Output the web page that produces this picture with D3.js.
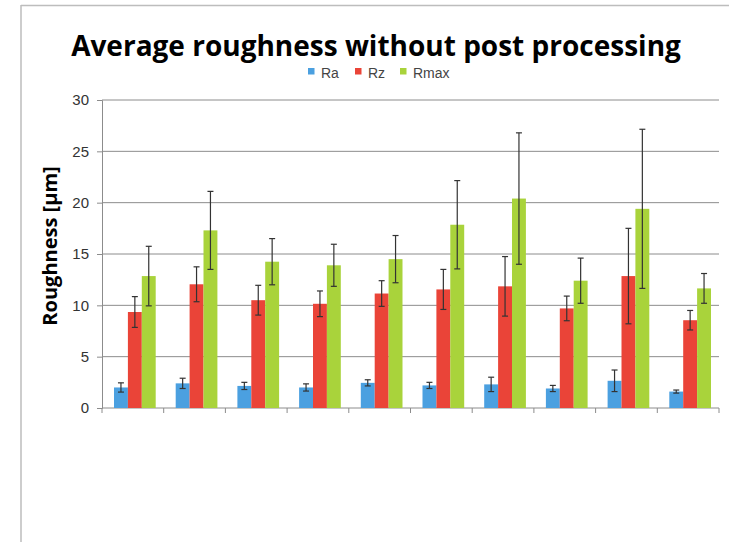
<!DOCTYPE html>
<html>
<head>
<meta charset="utf-8">
<script src="https://cdn.jsdelivr.net/npm/d3@7"></script>
<style>
  body { margin: 0; background: #fff; }
  svg { display: block; }
</style>
</head>
<body>
<div id="chart"></div>
<script>
// samples (no labels shown on the x axis)
var samples = ["1", "2", "3", "4", "5", "6", "7", "8", "9", "10"];
var seriesNames = ["Ra", "Rz", "Rmax"];

// mean values
var raValues   = [2.0, 2.4, 2.15, 2.0, 2.45, 2.2, 2.3, 1.9, 2.65, 1.6];
var rzValues   = [9.35, 12.05, 10.5, 10.15, 11.15, 11.55, 11.85, 9.7, 12.85, 8.55];
var rmaxValues = [12.85, 17.3, 14.25, 13.9, 14.5, 17.85, 20.4, 12.4, 19.4, 11.65];

// standard deviations (error bars)
var raErr   = [0.45, 0.5, 0.35, 0.35, 0.3, 0.3, 0.7, 0.3, 1.05, 0.15];
var rzErr   = [1.5, 1.7, 1.45, 1.25, 1.25, 1.95, 2.9, 1.2, 4.65, 0.95];
var rmaxErr = [2.9, 3.8, 2.25, 2.05, 2.3, 4.3, 6.4, 2.2, 7.75, 1.45];

var yTicks = [0, 5, 10, 15, 20, 25, 30];
var colors = ["#4ba0e0", "#ea4438", "#a9d33b"];

var width = 729, height = 542;
var margin = { top: 100, right: 10, bottom: 134, left: 102 };
var innerW = width - margin.left - margin.right;
var innerH = height - margin.top - margin.bottom;

var svg = d3.select("#chart").append("svg")
    .attr("width", width)
    .attr("height", height);

// scanned page frame
svg.append("line")
    .attr("x1", 21).attr("x2", width).attr("y1", 5.5).attr("y2", 5.5)
    .attr("stroke", "#bdbdbd").attr("stroke-width", 1.5);
svg.append("line")
    .attr("x1", 21).attr("x2", 21).attr("y1", 5).attr("y2", height)
    .attr("stroke", "#bdbdbd").attr("stroke-width", 1.5);

// title
svg.append("text")
    .attr("x", 376)
    .attr("y", 56)
    .attr("text-anchor", "middle")
    .style("font-family", "'Open Sans', sans-serif")
    .style("font-size", "28px")
    .style("font-weight", "bold")
    .text("Average roughness without post processing");

// legend
var legendX = [308, 355, 400];
var legend = svg.append("g").attr("class", "legend");
seriesNames.forEach(function (name, i) {
    legend.append("rect")
        .attr("x", legendX[i]).attr("y", 68)
        .attr("width", 6.5).attr("height", 6.5)
        .attr("fill", colors[i]);
    legend.append("text")
        .attr("x", legendX[i] + 13).attr("y", 77.5)
        .style("font-family", "'Liberation Sans', Arial, sans-serif")
        .style("font-size", "14px")
        .attr("fill", "#444")
        .text(name);
});

var g = svg.append("g")
    .attr("transform", "translate(" + margin.left + "," + margin.top + ")");

var x0 = d3.scaleBand().domain(samples).range([0, innerW]).padding(0);
var x1 = d3.scaleBand().domain(seriesNames)
    .range([12, x0.bandwidth() - 8]).padding(0);
var y = d3.scaleLinear().domain([0, 30]).range([innerH, 0]);

// grid lines
g.append("g")
    .selectAll("line")
    .data(yTicks.slice(1))
    .enter()
    .append("line")
    .attr("x1", 0).attr("x2", innerW)
    .attr("y1", function (d) { return y(d); })
    .attr("y2", function (d) { return y(d); })
    .attr("stroke", "#8c8c8c")
    .attr("stroke-width", 1);

// y axis
var yAxis = g.append("g")
    .call(d3.axisLeft(y).tickValues(yTicks).tickSize(5).tickPadding(8));
yAxis.select(".domain").attr("stroke", "#8c8c8c");
yAxis.selectAll(".tick line").attr("stroke", "#8c8c8c");
yAxis.selectAll("text")
    .style("font-family", "'Liberation Sans', Arial, sans-serif")
    .style("font-size", "15px")
    .attr("fill", "#333");

// x axis: boundary ticks only
var xAxis = g.append("g")
    .attr("transform", "translate(0," + innerH + ")");
xAxis.append("line")
    .attr("x1", 0).attr("x2", innerW)
    .attr("stroke", "#8c8c8c");
xAxis.selectAll(".bound")
    .data(samples.concat(["end"]))
    .enter()
    .append("line")
    .attr("class", "bound")
    .attr("x1", function (d, i) { return i * x0.step(); })
    .attr("x2", function (d, i) { return i * x0.step(); })
    .attr("y1", 0).attr("y2", 5)
    .attr("stroke", "#8c8c8c");

// bars
var valueSets = [raValues, rzValues, rmaxValues];
var errSets = [raErr, rzErr, rmaxErr];
var rows = [];
samples.forEach(function (s, i) {
    seriesNames.forEach(function (name, k) {
        rows.push({ sample: s, series: name, k: k, value: valueSets[k][i], err: errSets[k][i] });
    });
});

g.selectAll("rect.bar")
    .data(rows)
    .enter()
    .append("rect")
    .attr("class", "bar")
    .attr("x", function (d) { return x0(d.sample) + x1(d.series); })
    .attr("y", function (d) { return y(d.value); })
    .attr("width", x1.bandwidth())
    .attr("height", function (d) { return innerH - y(d.value); })
    .attr("fill", function (d) { return colors[d.k]; });

// error bars
var err = g.selectAll("g.err")
    .data(rows)
    .enter()
    .append("g")
    .attr("class", "err")
    .attr("stroke", "#333")
    .attr("stroke-width", 1.2);

function cx(d) { return x0(d.sample) + x1(d.series) + x1.bandwidth() / 2; }

err.append("line")
    .attr("x1", cx).attr("x2", cx)
    .attr("y1", function (d) { return y(d.value + d.err); })
    .attr("y2", function (d) { return y(d.value - d.err); });
err.append("line")
    .attr("x1", function (d) { return cx(d) - 3; })
    .attr("x2", function (d) { return cx(d) + 3; })
    .attr("y1", function (d) { return y(d.value + d.err); })
    .attr("y2", function (d) { return y(d.value + d.err); });
err.append("line")
    .attr("x1", function (d) { return cx(d) - 3; })
    .attr("x2", function (d) { return cx(d) + 3; })
    .attr("y1", function (d) { return y(d.value - d.err); })
    .attr("y2", function (d) { return y(d.value - d.err); });

// y axis title
svg.append("text")
    .attr("transform", "translate(57,246) rotate(-90)")
    .attr("text-anchor", "middle")
    .style("font-family", "'Open Sans', sans-serif")
    .style("font-size", "20px")
    .style("font-weight", "bold")
    .text("Roughness [µm]");
</script>
</body>
</html>
